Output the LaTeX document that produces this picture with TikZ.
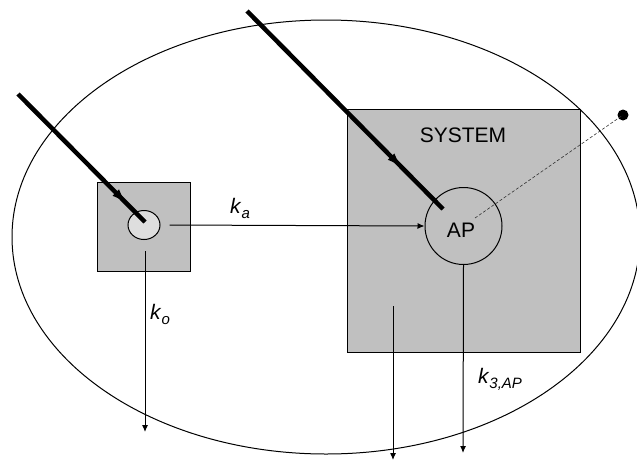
\documentclass[tikz,border=0pt]{standalone}
\usepackage{fontspec}
\setmainfont{Liberation Sans}
\usetikzlibrary{arrows.meta,decorations.markings,shapes.geometric}
\definecolor{boxgray}{RGB}{192,192,192}
\definecolor{cellgray}{RGB}{222,222,222}
\newcommand{\kk}[1]{\textit{k}\raisebox{-5pt}{\fontsize{15}{15}\selectfont\textit{#1}}}
\tikzset{
  box/.style={draw=black, line width=1pt, fill=boxgray, inner sep=0pt},
  lbl/.style={font=\fontsize{21}{24}\selectfont, inner sep=0pt},
  flow/.style={line width=1pt, -{Latex[length=7pt,width=6pt]}},
  beam/.style={line width=4.5pt, postaction={decorate},
    decoration={markings, mark=at position #1 with {\arrow{Latex[length=18pt,width=9pt]}}}},
  guide/.style={line width=0.6pt, dash pattern=on 3pt off 2pt, draw=black!80}
}
\begin{document}
\begin{tikzpicture}[x=1pt,y=-1pt]
\useasboundingbox (0,0) rectangle (637,461);
% outer ellipse
\draw[line width=1pt] (326,237) ellipse [x radius=314, y radius=217];
% boxes
\node[box, minimum width=93pt, minimum height=89pt] (sbox) at (144,227) {};
\node[draw=black, line width=1pt, fill=cellgray, ellipse, minimum width=32pt, minimum height=29pt, inner sep=0pt] (sell) at (144,225) {};
\node[box, minimum width=233pt, minimum height=243pt] (bbox) at (463.5,230.5) {};
\node[lbl] (sys) at (463,135.5) {SYSTEM};
\node[draw=black, line width=1pt, circle, minimum size=77pt, inner sep=0pt, lbl] (ap) at (463.5,226) {};
\node[lbl] (aptext) at (461,230) {AP};
% dot
\node[fill=black, circle, minimum size=11pt, inner sep=0pt] (dot) at (623,115) {};
% coordinates
\coordinate (b1s) at (18,94);
\coordinate (b1e) at (145,222);
\coordinate (b2s) at (247,11);
\coordinate (b2e) at (443,209);
\coordinate (kos) at (145,251);
\coordinate (koe) at (145,432);
\coordinate (sss) at (393,306);
\coordinate (sse) at (393,460);
\coordinate (ape) at (463,453);
\coordinate (gs) at (475,218);
% beams
\draw[beam=0.87] (b1s) -- (b1e);
\draw[beam=0.8] (b2s) -- (b2e);
% flows
\draw[flow] ([xshift=9pt]sell.east) -- (ap.west);
\draw[flow] (kos) -- (koe);
\draw[flow] (sss) -- (sse);
\draw[flow] (ap.south) -- (ape);
\draw[guide] (gs) -- (dot.center);
% labels
\node[lbl] (ka) at (240,208) {\kk{a}};
\node[lbl] (ko) at (160,314) {\kk{o}};
\node[lbl] (k3) at (500,379) {\kk{3,AP}};
\end{tikzpicture}
\end{document}
